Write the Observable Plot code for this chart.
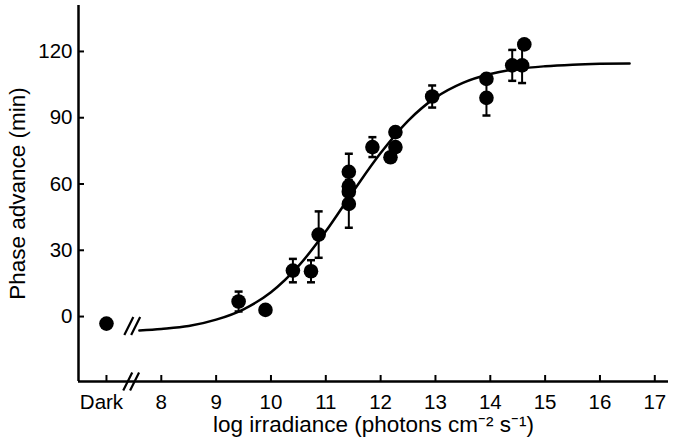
<!DOCTYPE html>
<html>
<head>
<meta charset="utf-8">
<script src="https://cdn.jsdelivr.net/npm/d3@7"></script>
<script src="https://cdn.jsdelivr.net/npm/@observablehq/plot@0.6"></script>
<style>
  html, body { margin: 0; padding: 0; background: #fff; }
  svg { display: block; }
</style>
</head>
<body>
<div id="chart"></div>
<script>
// ---- data ----
// measured points (log irradiance, phase advance in min, s.e.m. or null)
const pointX   = [7.00, 9.41, 9.90, 10.40, 10.73, 10.87, 11.42, 11.42, 11.42, 11.42, 11.85, 12.18, 12.27, 12.27, 12.94, 13.93, 13.93, 14.40, 14.58, 14.62];
const pointY   = [-3.2, 6.8, 3.0, 20.8, 20.5, 37.1, 65.5, 59.0, 56.5, 51.0, 76.7, 72.1, 76.7, 83.5, 99.6, 107.6, 99.0, 113.7, 113.7, 123.2];
const pointErr = [null, 4.5, null, 5.3, 5.0, 10.5, 8.2, null, null, 10.8, 4.5, null, null, null, 5.0, null, 8.0, 7.0, 8.0, null];

// fitted curve, read along its path
const curveX = [7.6, 8.0, 8.5, 9.0, 9.5, 10.0, 10.5, 11.0, 11.5, 12.0, 12.5, 13.0, 13.5, 14.0, 14.5, 15.0, 15.5, 16.0, 16.54];
const curveY = [-6.3, -5.6, -4.3, -1.4, 3.3, 11.0, 22.8, 38.6, 56.7, 74.0, 88.6, 99.1, 105.8, 109.8, 112.1, 113.3, 114.0, 114.4, 114.6];

// axes
const xTicks = [7, 8, 9, 10, 11, 12, 13, 14, 15, 16, 17];
const xTickLabels = ["Dark", "8", "9", "10", "11", "12", "13", "14", "15", "16", "17"];
const yTicks = [0, 30, 60, 90, 120];
const xDomain = [6.49, 17.25];
const yDomain = [-29.4, 140.8];
const xLabel = "log irradiance (photons cm\u207B\u00B2 s\u207B\u00B9)";
const yLabel = "Phase advance (min)";
// axis breaks (between "Dark" and the log scale)
const breakX = [7.45, 7.47];
const breakY = [yDomain[0], -4.3];

// ---- build tables ----
const points = pointX.map((x, i) => ({x, y: pointY[i], err: pointErr[i]}));
const errs = points.filter(d => d.err != null);
const caps = errs.flatMap(d => [{x: d.x, y: d.y + d.err}, {x: d.x, y: d.y - d.err}]);
const curve = curveX.map((x, i) => ({x, y: curveY[i]}));
const breaks = breakX.map((x, i) => ({x, y: breakY[i]}));

// custom symbols
const capSymbol = {
  draw(ctx, size) {
    const r = Math.sqrt(size / Math.PI);
    ctx.moveTo(-r, 0); ctx.lineTo(r, 0);
  }
};
const breakSymbol = {
  draw(ctx, size) {
    const r = Math.sqrt(size / Math.PI);
    for (const o of [-0.38 * r, 0.38 * r]) {
      ctx.moveTo(o - 0.5 * r, r);
      ctx.lineTo(o + 0.5 * r, -r);
    }
  }
};

const plot = Plot.plot({
  width: 676,
  height: 443,
  marginLeft: 78,
  marginRight: 8,
  marginTop: 5,
  marginBottom: 62,
  style: {fontFamily: "'Liberation Sans', Arial, Helvetica, sans-serif", fontSize: "20.5px", color: "#000", background: "#fff", overflow: "visible"},
  x: {domain: xDomain},
  y: {domain: yDomain},
  marks: [
    Plot.axisX({ticks: xTicks, tickFormat: d => xTickLabels[xTicks.indexOf(d)], tickSize: -6, tickPadding: 19, strokeWidth: 2,
      label: xLabel, labelAnchor: "center", labelArrow: "none", labelOffset: 50}),
    Plot.axisY({ticks: yTicks, tickSize: -6, tickPadding: 12, strokeWidth: 2,
      label: yLabel, labelAnchor: "center", labelArrow: "none", labelOffset: 69}),
    Plot.ruleX([xDomain[0]], {y1: yDomain[0], y2: yDomain[1], strokeWidth: 2.5}),
    Plot.ruleY([yDomain[0]], {x1: xDomain[0], x2: xDomain[1], strokeWidth: 2.5}),
    Plot.line(curve, {x: "x", y: "y", curve: "monotone-x", strokeWidth: 2.5}),
    Plot.ruleX(errs, {x: "x", y1: d => d.y - d.err, y2: d => d.y + d.err, strokeWidth: 2}),
    Plot.dot(caps, {x: "x", y: "y", symbol: capSymbol, r: 4, stroke: "#000", strokeWidth: 2.5, fill: "none"}),
    Plot.dot(points, {x: "x", y: "y", r: 7.3, fill: "#000", stroke: "none"}),
    Plot.dot(breaks, {x: "x", y: "y", symbol: breakSymbol, r: 9, stroke: "#000", strokeWidth: 2.2, fill: "none"})
  ]
});
d3.select(plot).selectAll('g[aria-label$="axis label"]').attr("font-size", "22.5px");
d3.select(plot).selectAll('g[aria-label="x-axis tick label"] text')
  .filter(function() { return this.textContent === xTickLabels[0]; })
  .attr("dx", -5);
document.getElementById("chart").appendChild(plot);
</script>
</body>
</html>
